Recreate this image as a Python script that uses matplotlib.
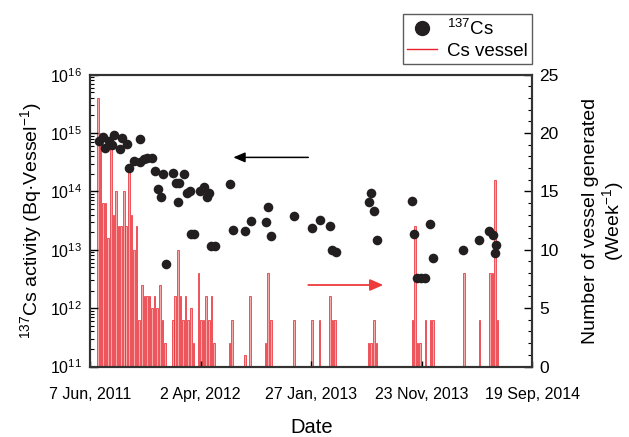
import matplotlib
matplotlib.use("Agg")
import matplotlib.pyplot as plt
import numpy as np
from matplotlib.lines import Line2D
from matplotlib.ticker import MultipleLocator, LogLocator, NullFormatter

plt.rcParams['font.family'] = ['Liberation Sans', 'DejaVu Sans']
plt.rcParams['mathtext.fontset'] = 'custom'
plt.rcParams['mathtext.rm'] = 'Liberation Sans'
plt.rcParams['mathtext.it'] = 'Liberation Sans:italic'

# ---- data ----
# x in days since 7 Jun 2011
tick_days = [0, 300, 600, 900, 1200]
tick_labels = ["7 Jun, 2011", "2 Apr, 2012", "27 Jan, 2013", "23 Nov, 2013", "19 Sep, 2014"]

cs_days = [24, 36, 40, 51, 58, 65, 80, 85, 99, 106, 120, 134, 135, 145, 155, 169, 175,
           184, 193, 198, 205, 225, 234, 238, 242, 254, 262, 270, 274, 283, 298, 309,
           316, 323, 329, 338, 380, 387, 420, 436, 477, 483, 490, 553, 602, 625, 651,
           657, 667, 757, 762, 771, 778, 875, 880, 888, 899, 910, 923, 931, 1013,
           1055, 1083, 1094, 1098, 1102]
cs_activity = [7.4e14, 8.5e14, 5.5e14, 7.2e14, 6.2e14, 9.1e14, 5.4e14, 8.1e14, 6.5e14,
               2.5e14, 3.3e14, 3.2e14, 7.8e14, 3.6e14, 3.7e14, 3.7e14, 2.2e14,
               1.1e14, 7.9e13, 2.0e14, 5.6e12, 2.1e14, 1.4e14, 6.6e13, 1.4e14, 1.95e14,
               9.5e13, 1.0e14, 1.9e13, 1.9e13, 1.0e14, 1.2e14,
               8.1e13, 9.3e13, 1.15e13, 1.15e13, 1.35e14, 2.2e13, 2.1e13, 3.1e13,
               3.0e13, 5.4e13, 1.7e13, 3.8e13, 2.4e13, 3.3e13, 2.6e13,
               1.0e13, 9.1e12, 6.5e13, 9.3e13, 4.6e13, 1.5e13, 6.8e13, 1.9e13,
               3.3e12, 3.3e12, 3.3e12, 2.8e13, 7.2e12, 1.0e13,
               1.5e13, 2.1e13, 1.8e13, 8.9e12, 1.2e13]

vessel_week = [3, 4, 5, 6, 7, 8, 9, 10, 11, 12, 13, 14, 15, 16, 17, 18, 19, 20, 21, 22,
               23, 24, 25, 26, 27, 28, 29, 32, 33, 34, 35, 36, 37, 38, 39, 40, 42, 43,
               44, 45, 46, 47, 48, 54, 55, 60, 62, 68, 69, 70, 79, 86, 89, 93, 94, 95,
               108, 109, 110, 111, 125, 126, 127, 128, 130, 132, 133, 145, 151, 155,
               156, 157, 158]
vessel_count = [23, 20, 14, 14, 11, 19, 13, 15, 12, 12, 15, 12, 17, 13, 10, 12, 4, 7, 6, 6,
                6, 5, 6, 5, 7, 4, 2, 4, 6, 10, 6, 4, 6, 4, 5, 2, 8, 4,
                4, 6, 4, 6, 2, 2, 4, 1, 6, 2, 8, 4, 4, 4, 4, 6, 4, 4,
                2, 2, 4, 2, 4, 12, 2, 2, 4, 4, 4, 8, 4, 8,
                8, 16, 4]

# ---- figure ----
fig = plt.figure(figsize=(6.29, 4.37), dpi=100)
ax = fig.add_axes([0.1434, 0.1613, 0.7027, 0.6678])
ax2 = ax.twinx()
ax.set_zorder(ax2.get_zorder() + 1)
ax.patch.set_visible(False)

vessel_days = np.array(vessel_week) * 7
ax2.bar(vessel_days, vessel_count, width=4.5, facecolor='#f7a8a8', edgecolor='#e8202a',
        linewidth=0.5, align='center')
ax2.set_ylim(0, 25)
ax2.yaxis.set_major_locator(MultipleLocator(5))
ax2.yaxis.set_minor_locator(MultipleLocator(1))
ax2.tick_params(axis='y', which='major', direction='in', length=6, width=1, labelsize=12.5, pad=5)
ax2.tick_params(axis='y', which='minor', direction='in', length=3, width=0.8)
ax2.set_ylabel("Number of vessel generated\n(Week$^{-1}$)", fontsize=14, labelpad=17,
               linespacing=1.05)

ax.scatter(cs_days, cs_activity, s=48, color='#231f20', zorder=3, linewidths=0)
ax.set_yscale('log')
ax.set_ylim(1e11, 1e16)
ax.set_xlim(0, 1200)
ax.yaxis.set_major_locator(LogLocator(base=10, numticks=10))
ax.yaxis.set_minor_locator(LogLocator(base=10, subs=np.arange(2, 10), numticks=20))
ax.yaxis.set_minor_formatter(NullFormatter())
ax.tick_params(axis='y', which='major', direction='in', length=6, width=1, labelsize=11.5, pad=6)
ax.tick_params(axis='y', which='minor', direction='in', length=3, width=0.8)
ax.set_xticks(tick_days)
ax.set_xticklabels(tick_labels)
ax.tick_params(axis='x', which='major', direction='in', length=4, width=1, labelsize=11.5, pad=15)
ax2.tick_params(axis='x', which='both', bottom=False, top=False)
ax.set_xlabel("Date", fontsize=14.5, labelpad=11)
ax.set_ylabel("$^{137}$Cs activity (Bq\u00b7Vessel$^{-1}$)", fontsize=14, labelpad=4)

for a in (ax, ax2):
    for sp in a.spines.values():
        sp.set_linewidth(1.5)
        sp.set_color('#333333')

# arrows
ax.annotate("", xy=(0.3238, 0.7166), xytext=(0.4934, 0.7166), xycoords='axes fraction',
            arrowprops=dict(arrowstyle='-|>,head_length=0.7,head_width=0.3', color='black', lw=1.1,
                            shrinkA=0, shrinkB=0))
ax.annotate("", xy=(0.6631, 0.2793), xytext=(0.4934, 0.2793), xycoords='axes fraction',
            arrowprops=dict(arrowstyle='-|>,head_length=0.8,head_width=0.35', color='#ee3b3b', lw=1.3,
                            shrinkA=0, shrinkB=0))

handles = [Line2D([], [], marker='o', ls='', color='#231f20', ms=10),
           Line2D([], [], color='#e8202a', lw=1)]
leg = ax.legend(handles, ["$^{137}$Cs", "Cs vessel"], loc='lower right',
                bbox_to_anchor=(1.0, 1.035), fontsize=13.5, frameon=True, fancybox=False,
                edgecolor='#333333', borderpad=0.25, handlelength=1.6, handletextpad=0.5,
                labelspacing=0.2, borderaxespad=0)
leg.get_frame().set_linewidth(1.0)

fig.savefig("out.png", dpi=100)
